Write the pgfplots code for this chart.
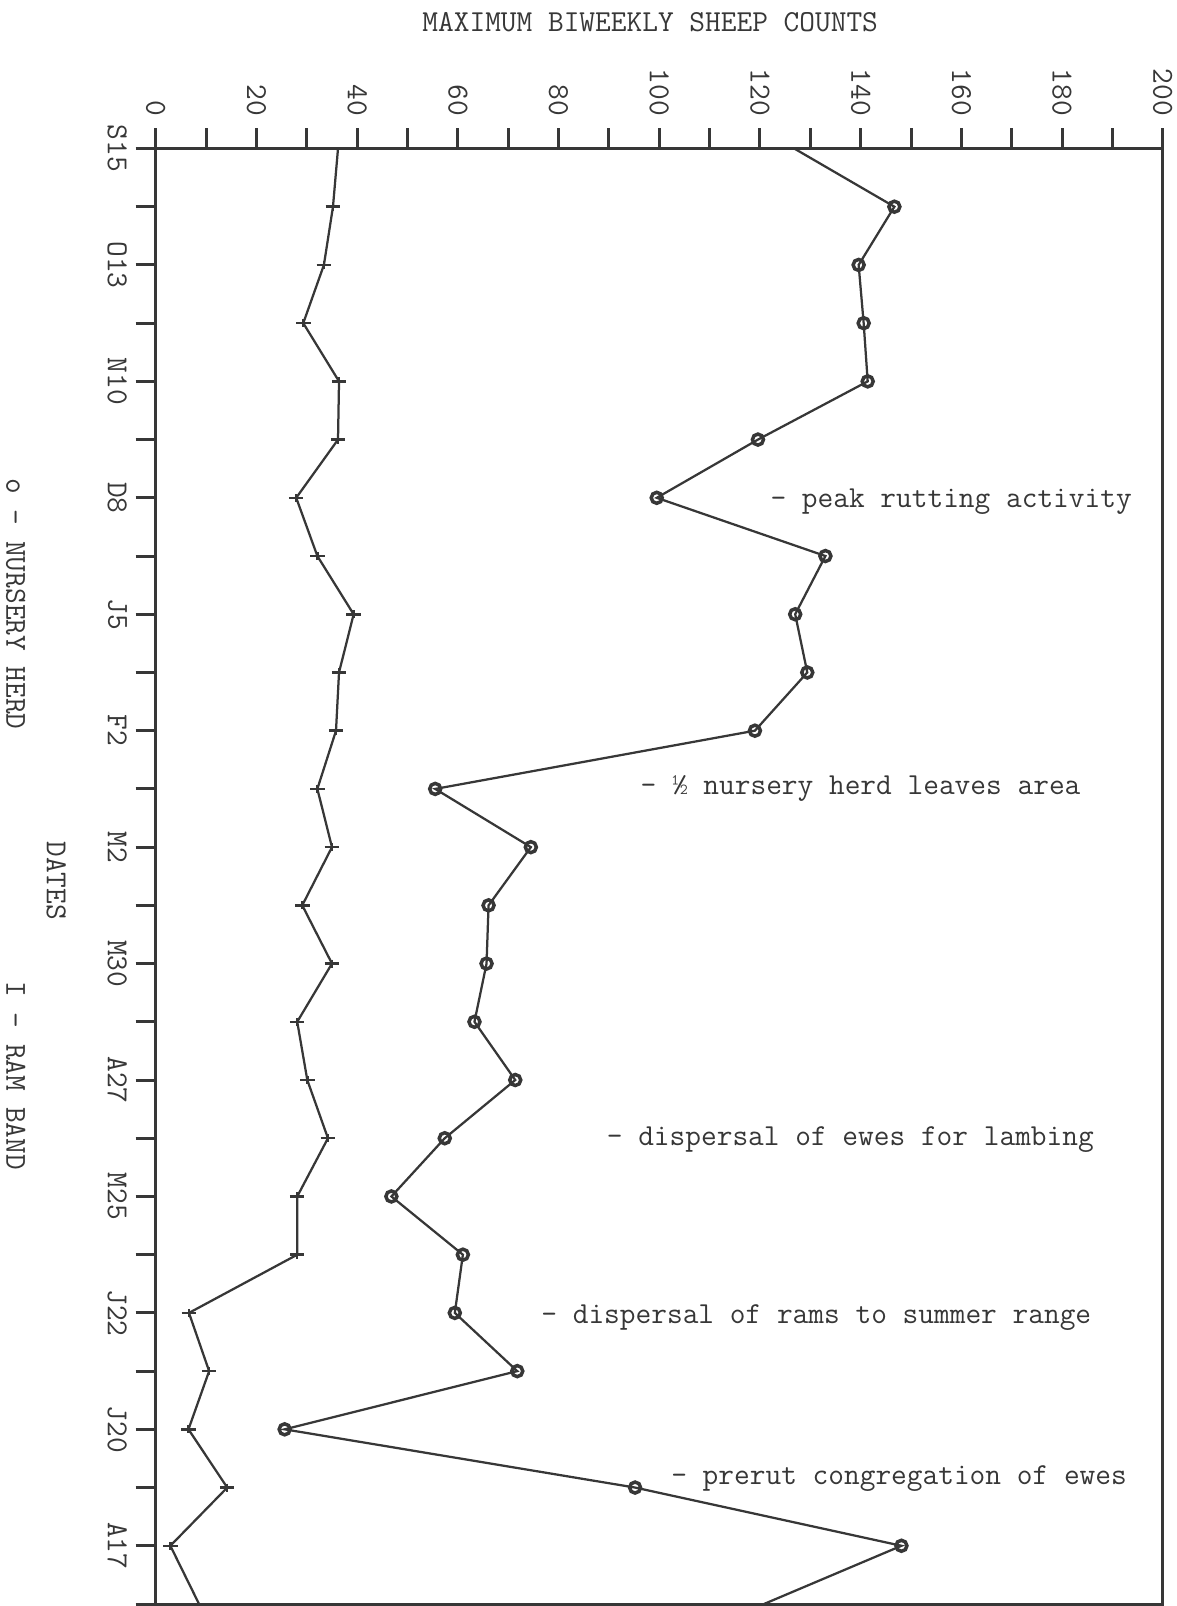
\documentclass[border=0pt]{standalone}
\usepackage{fontspec}
\usepackage{pgfplots}
\pgfplotsset{compat=1.18}
\definecolor{ink}{RGB}{55,55,55}
\newcommand{\tw}{\ttfamily\addfontfeature{FakeBold=0.8}\fontsize{12.2}{14}\selectfont}
\begin{document}
\begin{tikzpicture}
\begin{axis}[
  scale only axis, width=402.8pt, height=582.2pt,
  xmin=0, xmax=200, ymin=-25, ymax=0,
  clip=false,
  axis line style={line width=1.2pt, ink},
  xtick pos=right, xticklabel pos=right,
  ytick pos=left, yticklabel pos=left,
  xtick={0,20,...,200}, minor x tick num=1,
  ytick={-25,...,0},
  yticklabels={,A17,,J20,,J22,,M25,,A27,,M30,,M2,,F2,,J5,,D8,,N10,,O13,,S15},
  tick align=outside,
  major tick length=8pt, minor tick length=8pt,
  every tick/.style={line width=1.2pt, ink},
  /pgf/number format/assume math mode=true,
  ticklabel style={font=\tw, text=ink},
  xticklabel style={rotate=-90, anchor=east, xshift=-1.5pt},
  yticklabel style={rotate=-90, anchor=north},
]
\addplot[ink, line width=0.9pt, mark=o, mark size=2.2pt, mark indices={2,...,25},
  mark options={line width=1.4pt}] coordinates {
(126.8,0)(146.7,-1)(139.6,-2)(140.6,-3)(141.4,-4)(119.6,-5)(99.5,-6)(133,-7)(127,-8)(129.4,-9)(119,-10)(55.5,-11)(74.5,-12)(66.1,-13)(65.7,-14)(63.3,-15)(71.4,-16)(57.4,-17)(46.8,-18)(61,-19)(59.4,-20)(71.8,-21)(25.6,-22)(95.2,-23)(148.1,-24)(120.8,-25)
};
\addplot[ink, line width=0.9pt, mark=+, mark size=2.9pt, mark indices={2,...,25},
  mark options={line width=1pt, yscale=0.55}] coordinates {
(36.2,0)(35.2,-1)(33.4,-2)(29.3,-3)(36.4,-4)(36.2,-5)(27.9,-6)(32.1,-7)(39.3,-8)(36.4,-9)(35.8,-10)(32.1,-11)(35,-12)(29.1,-13)(35,-14)(28.1,-15)(30.1,-16)(34.2,-17)(28.1,-18)(28.1,-19)(6.6,-20)(10.6,-21)(6.5,-22)(14.2,-23)(2.9,-24)(8.6,-25)
};
\node[anchor=west, font=\tw, text=ink, inner sep=0pt] at (axis cs:122,-6.07) {- peak rutting activity};
\node[anchor=west, font=\tw, text=ink, inner sep=0pt] at (axis cs:96.2,-11.0) {- ½ nursery herd leaves area};
\node[anchor=west, font=\tw, text=ink, inner sep=0pt] at (axis cs:89.5,-17.03) {- dispersal of ewes for lambing};
\node[anchor=west, font=\tw, text=ink, inner sep=0pt] at (axis cs:76.5,-20.08) {- dispersal of rams to summer range};
\node[anchor=west, font=\tw, text=ink, inner sep=0pt] at (axis cs:102.3,-22.84) {- prerut congregation of ewes};
\node[font=\tw, text=ink] at (axis description cs:0.491,1.0866) {MAXIMUM BIWEEKLY SHEEP COUNTS};
\node[font=\tw, text=ink, rotate=-90] at (axis description cs:-0.139,0.687) {o - NURSERY HERD};
\node[font=\tw, text=ink, rotate=-90] at (axis description cs:-0.0988,0.497) {DATES};
\node[font=\tw, text=ink, rotate=-90] at (axis description cs:-0.139,0.363) {I - RAM BAND};
\coordinate (tl) at (axis description cs:0,1);
\coordinate (br) at (axis description cs:1,0);
\end{axis}
\pgfresetboundingbox
\path[use as bounding box] ([xshift=-62.3pt,yshift=59.4pt]tl) rectangle ([xshift=5.7pt,yshift=-0.8pt]br);
\end{tikzpicture}
\end{document}
